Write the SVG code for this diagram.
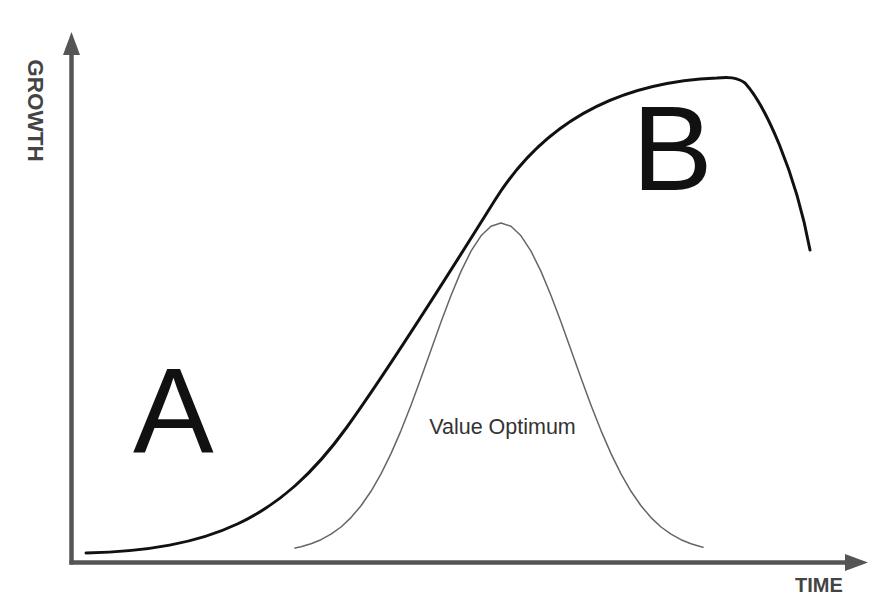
<svg xmlns="http://www.w3.org/2000/svg" width="880" height="603" viewBox="0 0 880 603">
  <style>
    .axis { stroke: #555; stroke-width: 4.5; fill: none; }
    .axislabel { font-family: "Liberation Sans", Arial, sans-serif; font-weight: bold; fill: #444; }
    .big { font-family: "Liberation Sans", Arial, sans-serif; font-size: 121px; fill: #111; }
    .growth { stroke: #111; stroke-width: 3; fill: none; stroke-linecap: round; stroke-linejoin: round; }
    .bell { stroke: #666; stroke-width: 1.5; fill: none; stroke-linecap: round; stroke-linejoin: round; }
    .note { font-family: "Liberation Sans", Arial, sans-serif; font-size: 21.5px; fill: #333; }
  </style>
  <defs>
    <marker id="arrow" markerUnits="userSpaceOnUse" markerWidth="24" markerHeight="18" refX="0" refY="8.5" orient="auto">
      <path d="M0,0 L23,8.5 L0,17 z" fill="#555"/>
    </marker>
  </defs>
  <rect width="880" height="603" fill="#fff"/>

  <g id="connectors">
    <line id="y-axis" class="axis" x1="71.5" y1="564.5" x2="71.5" y2="55" marker-end="url(#arrow)"/>
    <line id="x-axis" class="axis" x1="69.5" y1="562.5" x2="845" y2="562.5" marker-end="url(#arrow)"/>
  </g>

  <g id="label-growth">
    <text class="axislabel" font-size="22.5" text-anchor="middle" transform="translate(28,110.5) rotate(90)">GROWTH</text>
  </g>
  <g id="label-time">
    <text class="axislabel" font-size="20" x="795" y="592">TIME</text>
  </g>

  <g id="growth-curve">
    <path class="growth" d="M86,553 C210,550 280,520 347,427 C395,360 465,248 495,200 C545,120 620,82 717,78 C728,77 737,77 745,83 C765,105 795,170 810,250"/>
  </g>

  <g id="value-curve">
    <polyline class="bell" points="295,548.1 301,546.8 311,543.8 321,539.7 331,534.2 341,527 351,517.6 361,505.8 371,491.3 381,473.9 391,453.6 401,430.6 411,405.2 421,378.1 431,350 441,322.1 451,295.5 461,271.4 471,251.2 481,235.8 491,226.3 501,223 511,226.3 521,235.8 531,251.2 541,271.4 551,295.5 561,322.1 571,350 581,378.1 591,405.2 601,430.6 611,453.6 621,473.9 631,491.3 641,505.8 651,517.6 661,527 671,534.2 681,539.7 691,543.8 701,546.8 703,547.3"/>
    <text class="note" x="502.5" y="434" text-anchor="middle">Value Optimum</text>
  </g>

  <g id="label-a">
    <text class="big" x="133" y="452">A</text>
  </g>
  <g id="label-b">
    <text class="big" x="632" y="190">B</text>
  </g>
</svg>
